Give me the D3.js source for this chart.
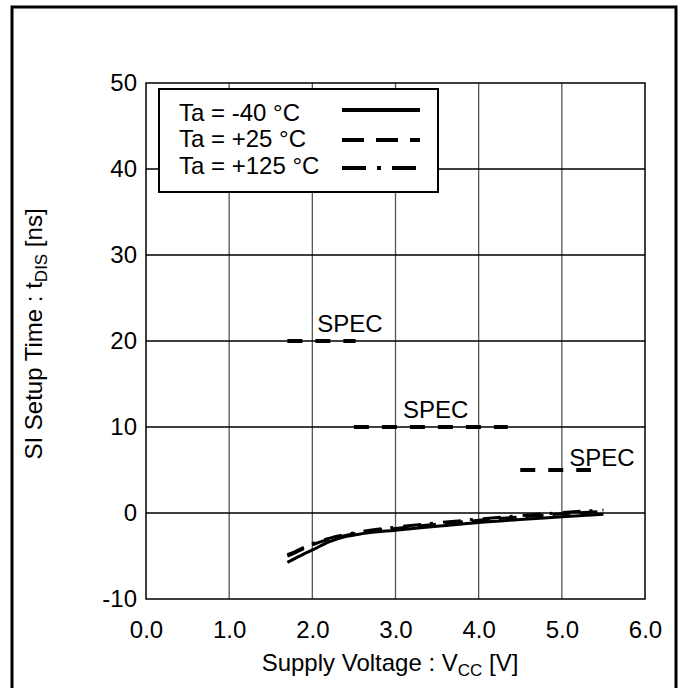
<!DOCTYPE html>
<html>
<head>
<meta charset="utf-8">
<script src="https://cdn.jsdelivr.net/npm/d3@7"></script>
<style>
  body { margin: 0; background: #fff; }
  text { font-family: "Liberation Sans", Arial, sans-serif; fill: #000; }
</style>
</head>
<body>
<svg id="chart" width="685" height="688"></svg>
<script>
// Data
const xTicks = [0, 1, 2, 3, 4, 5, 6];
const yTicks = [-10, 0, 10, 20, 30, 40, 50];

const vcc = [1.7, 1.8, 1.9, 2.0, 2.2, 2.4, 2.6, 3.0, 3.5, 4.0, 4.5, 5.0, 5.5];
const tMinus40 = [-5.75, -5.25, -4.75, -4.3, -3.35, -2.75, -2.4, -2.0, -1.55, -1.1, -0.75, -0.45, -0.15];
const tPlus25 = [-5.0, -4.6, -4.15, -3.7, -3.05, -2.6, -2.25, -1.8, -1.3, -0.85, -0.45, -0.1, 0.2];
const tPlus125 = [-4.85, -4.45, -4.0, -3.55, -2.95, -2.5, -2.15, -1.65, -1.15, -0.7, -0.3, 0.05, 0.35];

const seriesNames = ["Ta = -40 °C", "Ta = +25 °C", "Ta = +125 °C"];
const seriesValues = [tMinus40, tPlus25, tPlus125];
const seriesDash = [null, "18,9", "18,9,3,10"];

// SPEC limits
const specFrom = [1.7, 2.5, 4.5];
const specTo = [2.52, 4.35, 5.35];
const specValue = [20, 10, 5];
const specLabelV = [2.06, 3.09, 5.09];
const specLabelT = [21.1, 11.0, 5.5];

const svg = d3.select("#chart");
const margin = { left: 146, right: 40, top: 83, bottom: 89 };
const width = 645 - margin.left;
const height = 599 - margin.top;

// outer frame
svg.append("rect")
  .attr("x", 12).attr("y", 7)
  .attr("width", 664).attr("height", 684)
  .attr("fill", "none").attr("stroke", "#000").attr("stroke-width", 3);

const g = svg.append("g").attr("transform", `translate(${margin.left},${margin.top})`);

const x = d3.scaleLinear().domain([0, 6]).range([0, width]);
const y = d3.scaleLinear().domain([-10, 50]).range([height, 0]);

// grid
g.selectAll("line.vgrid")
  .data(xTicks.slice(1, -1))
  .enter().append("line")
  .attr("class", "vgrid")
  .attr("x1", d => x(d)).attr("x2", d => x(d))
  .attr("y1", 0).attr("y2", height)
  .attr("stroke", "#555").attr("stroke-width", 1.3);

g.selectAll("line.hgrid")
  .data(yTicks.slice(1, -1))
  .enter().append("line")
  .attr("class", "hgrid")
  .attr("x1", 0).attr("x2", width)
  .attr("y1", d => y(d)).attr("y2", d => y(d))
  .attr("stroke", "#000").attr("stroke-width", 1.3);

// plot border
g.append("rect")
  .attr("width", width).attr("height", height)
  .attr("fill", "none").attr("stroke", "#000").attr("stroke-width", 1.5);

// axes (labels only, grid does the ticks)
const xAxis = d3.axisBottom(x).tickValues(xTicks).tickFormat(d3.format(".1f")).tickSize(0).tickPadding(22);
const yAxis = d3.axisLeft(y).tickValues(yTicks).tickFormat(d => String(d)).tickSize(0).tickPadding(9);

const gx = g.append("g").attr("transform", `translate(0,${height})`).call(xAxis);
const gy = g.append("g").call(yAxis);
[gx, gy].forEach(a => {
  a.select(".domain").remove();
  a.selectAll("text").attr("font-size", 24).attr("font-family", "Liberation Sans, Arial, sans-serif");
});

// SPEC lines
g.selectAll("line.spec")
  .data(specValue)
  .enter().append("line")
  .attr("class", "spec")
  .attr("x1", (d, i) => x(specFrom[i])).attr("x2", (d, i) => x(specTo[i]))
  .attr("y1", d => y(d)).attr("y2", d => y(d))
  .attr("stroke", "#000").attr("stroke-width", 4)
  .attr("stroke-dasharray", "15,13");

g.selectAll("text.spec")
  .data(specValue)
  .enter().append("text")
  .attr("class", "spec")
  .attr("x", (d, i) => x(specLabelV[i]))
  .attr("y", (d, i) => y(specLabelT[i]))
  .attr("font-size", 24)
  .text("SPEC");

// curves
const line = d3.line()
  .x((d, i) => x(vcc[i]))
  .y(d => y(d))
  .curve(d3.curveMonotoneX);

g.selectAll("path.curve")
  .data(seriesValues)
  .enter().append("path")
  .attr("class", "curve")
  .attr("d", line)
  .attr("fill", "none")
  .attr("stroke", "#000")
  .attr("stroke-width", 3)
  .attr("stroke-dasharray", (d, i) => seriesDash[i]);

// legend
const legend = svg.append("g").attr("transform", "translate(159,89)");
legend.append("rect")
  .attr("width", 279).attr("height", 103)
  .attr("fill", "#fff").attr("stroke", "#000").attr("stroke-width", 2);

const textY = [32, 58, 85];
const lineY = [21, 51, 79];
legend.selectAll("text")
  .data(seriesNames)
  .enter().append("text")
  .attr("x", 20)
  .attr("y", (d, i) => textY[i])
  .attr("font-size", 24)
  .text(d => d);

legend.selectAll("line")
  .data(seriesNames)
  .enter().append("line")
  .attr("x1", 183).attr("x2", 261)
  .attr("y1", (d, i) => lineY[i]).attr("y2", (d, i) => lineY[i])
  .attr("stroke", "#000").attr("stroke-width", 4)
  .attr("stroke-dasharray", (d, i) => i === 0 ? null : (i === 1 ? "22,12" : "24,11,4,11"));

// axis titles
const xt = svg.append("text")
  .attr("x", 390)
  .attr("y", 671)
  .attr("text-anchor", "middle")
  .attr("font-size", 24);
xt.append("tspan").text("Supply Voltage : V");
xt.append("tspan").attr("font-size", 17).attr("dy", 5).text("CC");
xt.append("tspan").attr("dy", -5).text(" [V]");

const yt = svg.append("text")
  .attr("transform", "translate(42,334) rotate(-90)")
  .attr("text-anchor", "middle")
  .attr("font-size", 24);
yt.append("tspan").text("SI Setup Time : t");
yt.append("tspan").attr("font-size", 17).attr("dy", 5).text("DIS");
yt.append("tspan").attr("dy", -5).text(" [ns]");
</script>
</body>
</html>
